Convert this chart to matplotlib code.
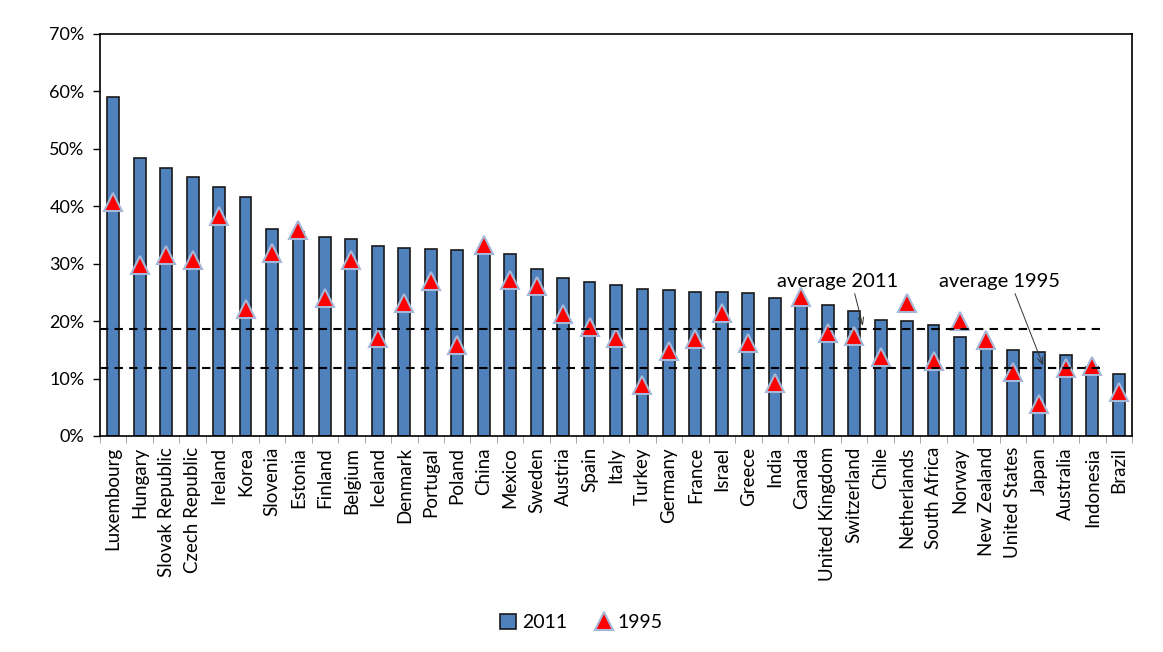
import numpy as np
import matplotlib
matplotlib.use('Agg')
import matplotlib.pyplot as plt

countries = ['Luxembourg', 'Hungary', 'Slovak Republic', 'Czech Republic', 'Ireland', 'Korea',
             'Slovenia', 'Estonia', 'Finland', 'Belgium', 'Iceland', 'Denmark', 'Portugal',
             'Poland', 'China', 'Mexico', 'Sweden', 'Austria', 'Spain', 'Italy', 'Turkey',
             'Germany', 'France', 'Israel', 'Greece', 'India', 'Canada', 'United Kingdom',
             'Switzerland', 'Chile', 'Netherlands', 'South Africa', 'Norway', 'New Zealand',
             'United States', 'Japan', 'Australia', 'Indonesia', 'Brazil']

v2011 = [59.0, 48.4, 46.7, 45.1, 43.4, 41.6, 36.0, 35.5, 34.7, 34.3, 33.1, 32.7, 32.6,
         32.4, 32.0, 31.7, 29.1, 27.5, 26.8, 26.3, 25.6, 25.4, 25.1, 25.1, 24.9, 24.0,
         23.2, 22.8, 21.8, 20.2, 20.0, 19.3, 17.2, 15.8, 15.0, 14.6, 14.1, 12.0, 10.8]

v1995 = [40.7, 29.8, 31.5, 30.6, 38.3, 22.1, 31.9, 35.9, 24.0, 30.6, 17.1, 23.2, 27.0,
         15.8, 33.3, 27.2, 26.1, 21.2, 19.0, 17.1, 8.9, 14.8, 16.9, 21.4, 16.2, 9.2,
         24.2, 17.9, 17.4, 13.8, 23.2, 13.1, 20.0, 16.7, 11.1, 5.6, 11.8, 12.2, 7.7]

avg2011 = 18.6
avg1995 = 11.8

plt.rcParams['font.family'] = ['Lato', 'DejaVu Sans']

fig = plt.figure(figsize=(11.63, 6.52), dpi=100)
ax = fig.add_axes([100 / 1163, 1 - 436 / 652, 1032 / 1163, 402 / 652])

x = np.arange(len(countries))
bars = ax.bar(x, v2011, width=0.45, color='#4F81BD', edgecolor='#1a1a1a', linewidth=1.2,
              label='2011', zorder=2)
tri, = ax.plot(x, v1995, linestyle='none', marker='^', markersize=13, color='#FF0000',
               markeredgecolor='#A6B8D8', markeredgewidth=1.5, label='1995', zorder=3)

n = len(countries)
ax.plot([-0.5, n - 1.5], [avg2011, avg2011], color='black', linestyle=(0, (4, 3)),
        linewidth=1.5, zorder=4)
ax.plot([-0.5, n - 1.5], [avg1995, avg1995], color='black', linestyle=(0, (4, 3)),
        linewidth=1.5, zorder=4)

# labels for the averages, with thin pointer lines
ax.text(25.1, 26.0, 'average 2011', fontsize=14.5, va='baseline', zorder=5)
ax.text(31.2, 26.0, 'average 1995', fontsize=14.5, va='baseline', zorder=5)
ax.annotate('', xy=(28.33, 19.2), xytext=(28.02, 24.8),
            arrowprops=dict(arrowstyle='->,head_length=0.5,head_width=0.2', color='#333333',
                            linewidth=0.7, shrinkA=0, shrinkB=0), zorder=5)
ax.annotate('', xy=(35.14, 12.3), xytext=(34.08, 24.8),
            arrowprops=dict(arrowstyle='->,head_length=0.5,head_width=0.2', color='#333333',
                            linewidth=0.7, shrinkA=0, shrinkB=0), zorder=5)

ax.set_xlim(-0.5, n - 0.5)
ax.set_ylim(0, 70)
ax.set_yticks(range(0, 71, 10))
ax.set_yticklabels(['%d%%' % v for v in range(0, 71, 10)], fontsize=13)
ax.set_xticks(x)
ax.set_xticklabels(countries, rotation=90, fontsize=13.5)
ax.set_xticks(np.arange(-0.5, n, 1), minor=True)
ax.tick_params(axis='x', which='major', length=0, pad=8)
ax.tick_params(axis='x', which='minor', length=5, color='#999999', direction='out')
ax.tick_params(axis='y', length=5, width=1, direction='out', pad=6)
for s in ax.spines.values():
    s.set_color('black')
    s.set_linewidth(1.2)

fig.legend([bars, tri], ['2011', '1995'], loc='lower center', bbox_to_anchor=(0.5, 0.005),
           ncol=2, frameon=False, fontsize=14, handlelength=0.8, handleheight=0.8,
           handletextpad=0.3, columnspacing=1.5)

fig.savefig('out.png', dpi=100)
